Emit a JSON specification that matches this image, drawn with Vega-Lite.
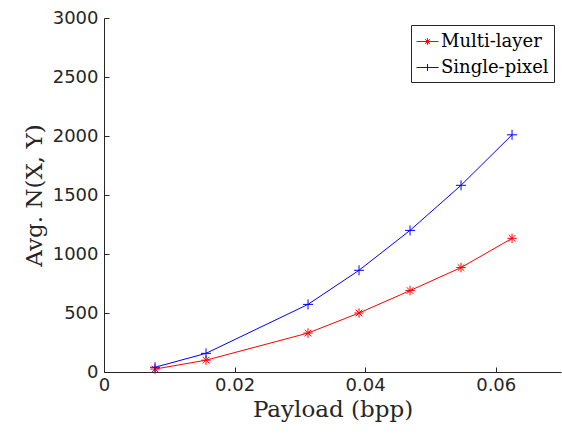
{
  "$schema": "https://vega.github.io/schema/vega-lite/v6.json",
  "width": 457,
  "height": 354,
  "autosize": "none",
  "padding": {"left": 104, "top": 18, "right": 1, "bottom": 65},
  "background": "white",
  "config": {
    "view": {"stroke": null},
    "axis": {
      "grid": false,
      "domainColor": "#262626",
      "tickColor": "#262626",
      "labelColor": "#262626",
      "titleColor": "#262626",
      "labelFont": "DejaVu Sans",
      "labelFontSize": 18,
      "titleFont": "DejaVu Serif",
      "titleFontSize": 23,
      "titleFontWeight": "normal",
      "tickSize": -5,
      "domainWidth": 1
    }
  },
  "data": {
    "values": [
      {"payload": 0.0078125, "value": 25, "method": "Multi-layer"},
      {"payload": 0.015625, "value": 100, "method": "Multi-layer"},
      {"payload": 0.03125, "value": 330, "method": "Multi-layer"},
      {"payload": 0.0390625, "value": 500, "method": "Multi-layer"},
      {"payload": 0.046875, "value": 690, "method": "Multi-layer"},
      {"payload": 0.0546875, "value": 885, "method": "Multi-layer"},
      {"payload": 0.0625, "value": 1133, "method": "Multi-layer"},
      {"payload": 0.0078125, "value": 40, "method": "Single-pixel"},
      {"payload": 0.015625, "value": 158, "method": "Single-pixel"},
      {"payload": 0.03125, "value": 573, "method": "Single-pixel"},
      {"payload": 0.0390625, "value": 862, "method": "Single-pixel"},
      {"payload": 0.046875, "value": 1200, "method": "Single-pixel"},
      {"payload": 0.0546875, "value": 1582, "method": "Single-pixel"},
      {"payload": 0.0625, "value": 2010, "method": "Single-pixel"}
    ]
  },
  "encoding": {
    "x": {
      "field": "payload", "type": "quantitative",
      "scale": {"domain": [0, 0.07], "nice": false, "zero": false},
      "axis": {"values": [0, 0.02, 0.04, 0.06], "format": "~g", "title": "Payload (bpp)", "labelPadding": 9, "titlePadding": 4, "labelFlush": false}
    },
    "y": {
      "field": "value", "type": "quantitative",
      "scale": {"domain": [0, 3000], "nice": false},
      "axis": {"values": [0, 500, 1000, 1500, 2000, 2500, 3000], "format": "d", "title": "Avg. N(X, Y)", "labelPadding": 11, "titlePadding": 6, "labelFlush": false}
    },
    "color": {
      "field": "method", "type": "nominal",
      "scale": {"domain": ["Multi-layer", "Single-pixel"], "range": ["#ff0000", "#0000ff"]},
      "legend": {
        "title": null, "orient": "none", "legendX": 307, "legendY": 7,
        "fillColor": "white", "strokeColor": "#262626", "padding": 5,
        "labelFont": "DejaVu Serif", "labelFontSize": 18, "labelColor": "#000000",
        "symbolSize": 484, "symbolStrokeWidth": 1, "rowPadding": 5, "labelOffset": 2, "cornerRadius": 0,
        "symbolFillColor": "transparent",
        "encode": {
          "symbols": {
            "update": {
              "shape": {"signal": "datum.value === 'Multi-layer' ? 'M-1,0L1,0M0,-0.3L0,0.3M-0.3,0L0.3,0M-0.21,-0.21L0.21,0.21M-0.21,0.21L0.21,-0.21' : 'M-1,0L1,0M0,-0.32L0,0.32'"},
              "fill": {"value": "transparent"}
            }
          }
        }
      }
    }
  },
  "layer": [
    {
      "mark": {"type": "line", "strokeWidth": 1}
    },
    {
      "transform": [{"filter": "datum.method === 'Multi-layer'"}],
      "mark": {"type": "point", "filled": false, "strokeWidth": 1, "size": 90, "opacity": 1, "shape": "M0,-1L0,1M-1,0L1,0M-0.7,-0.7L0.7,0.7M-0.7,0.7L0.7,-0.7"}
    },
    {
      "transform": [{"filter": "datum.method === 'Single-pixel'"}],
      "mark": {"type": "point", "filled": false, "strokeWidth": 1, "size": 100, "opacity": 1, "shape": "M0,-1L0,1M-1,0L1,0"}
    }
  ]
}
